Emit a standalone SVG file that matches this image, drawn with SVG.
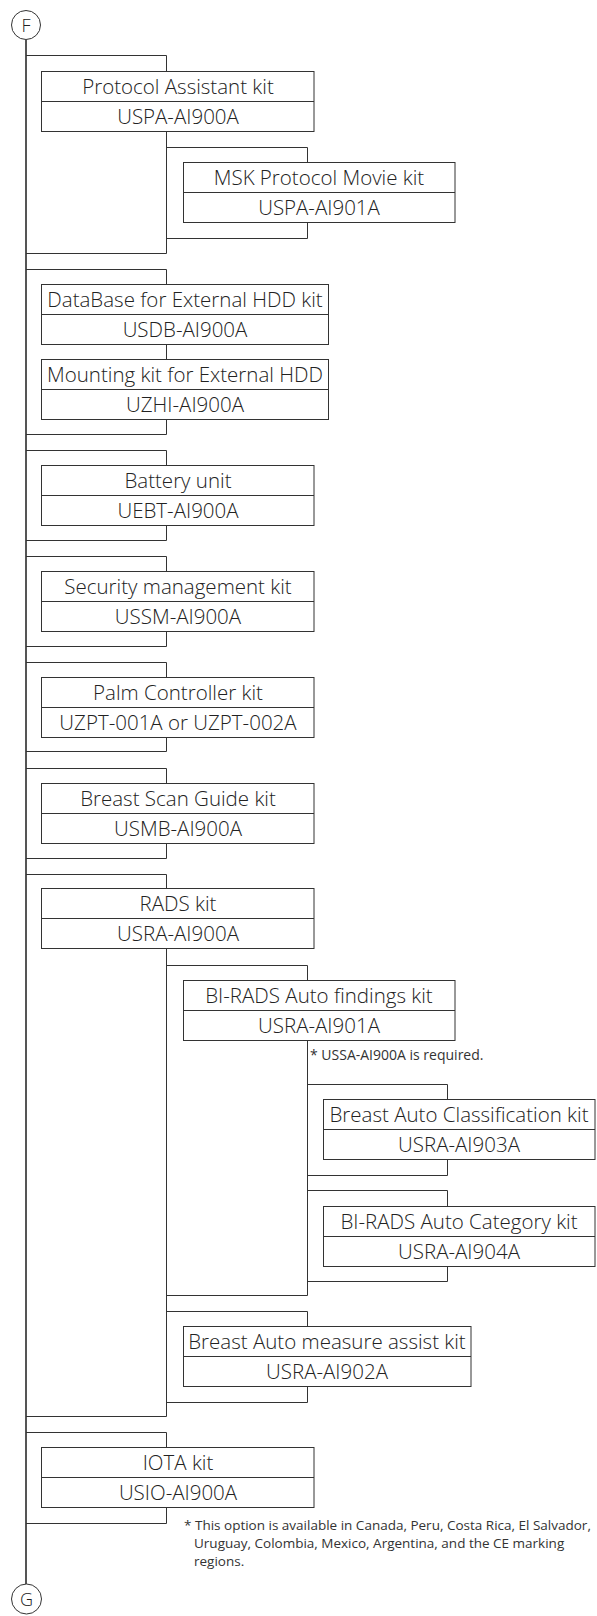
<svg xmlns="http://www.w3.org/2000/svg" width="597" height="1616" viewBox="0 0 597 1616">
<style>
.box{fill:#fff;stroke:#333;stroke-width:1}
.dv{stroke:#333;stroke-width:1}
.t{font-family:"Open Sans","Liberation Sans",sans-serif;font-weight:300;font-size:20.5px;fill:#222;text-anchor:middle}
.c{fill:none;stroke:#333;stroke-width:1}
.main{fill:none;stroke:#555;stroke-width:2}
.circ{fill:#fff;stroke:#333;stroke-width:1}
.ct{font-family:"Open Sans","Liberation Sans",sans-serif;font-weight:300;font-size:18px;fill:#222;text-anchor:middle}
.note{font-family:"Open Sans","Liberation Sans",sans-serif;font-weight:400;font-size:13.5px;fill:#333}
.note1{font-size:14px}
</style>
<g id="connectors">
<path class="main" d="M26 40 V1584"/>
<path class="c" d="M26 55.5 H166.5 V71.5 M166.5 131.5 V253.5 H26 M166.5 147.5 H307.5 V162.5 M307.5 222.5 V238.5 H166.5"/>
<path class="c" d="M26 269.5 H166.5 V284.5 M166.5 344.5 V359.5 M166.5 419.5 V434.5 H26"/>
<path class="c" d="M26 450.5 H166.5 V465.5 M166.5 525.5 V540.5 H26"/>
<path class="c" d="M26 556.5 H166.5 V571.5 M166.5 631.5 V646.5 H26"/>
<path class="c" d="M26 662.5 H166.5 V677.5 M166.5 737.5 V751.5 H26"/>
<path class="c" d="M26 768.5 H166.5 V783.5 M166.5 843.5 V858.5 H26"/>
<path class="c" d="M26 874.5 H166.5 V888.5 M166.5 948.5 V1416.5 H26 M166.5 965.5 H307.5 V980.5 M307.5 1040.5 V1295.5 H166.5 M307.5 1084.5 H447.5 V1099.5 M447.5 1159.5 V1175.5 H307.5 M307.5 1190.5 H447.5 V1206.5 M447.5 1266.5 V1281.5 H307.5 M166.5 1311.5 H307.5 V1326.5 M307.5 1386.5 V1402.5 H166.5"/>
<path class="c" d="M26 1432.5 H166.5 V1447.5 M166.5 1507.5 V1523.5 H26"/>
</g>
<g id="F">
<circle class="circ" cx="26" cy="25" r="14.5"/>
<text class="ct" x="26" y="31.5">F</text>
</g>
<g id="G">
<circle class="circ" cx="26.5" cy="1599" r="15"/>
<text class="ct" x="26.5" y="1605.5">G</text>
</g>
<g id="protocol-assistant">
<rect class="box" x="41.5" y="71.5" width="272.5" height="60"/>
<line class="dv" x1="41.5" y1="101.5" x2="314" y2="101.5"/>
<text class="t" x="178" y="94">Protocol Assistant kit</text>
<text class="t" x="178" y="124">USPA-AI900A</text>
</g>
<g id="msk-protocol-movie">
<rect class="box" x="183.5" y="162.5" width="271.5" height="60"/>
<line class="dv" x1="183.5" y1="192.5" x2="455" y2="192.5"/>
<text class="t" x="319" y="185">MSK Protocol Movie kit</text>
<text class="t" x="319" y="215">USPA-AI901A</text>
</g>
<g id="database-hdd">
<rect class="box" x="41.5" y="284.5" width="287" height="60"/>
<line class="dv" x1="41.5" y1="314.5" x2="328.5" y2="314.5"/>
<text class="t" x="185" y="307">DataBase for External HDD kit</text>
<text class="t" x="185" y="337">USDB-AI900A</text>
</g>
<g id="mounting-hdd">
<rect class="box" x="41.5" y="359.5" width="287" height="60"/>
<line class="dv" x1="41.5" y1="389.5" x2="328.5" y2="389.5"/>
<text class="t" x="185" y="382">Mounting kit for External HDD</text>
<text class="t" x="185" y="412">UZHI-AI900A</text>
</g>
<g id="battery">
<rect class="box" x="41.5" y="465.5" width="272.5" height="60"/>
<line class="dv" x1="41.5" y1="495.5" x2="314" y2="495.5"/>
<text class="t" x="178" y="488">Battery unit</text>
<text class="t" x="178" y="518">UEBT-AI900A</text>
</g>
<g id="security">
<rect class="box" x="41.5" y="571.5" width="272.5" height="60"/>
<line class="dv" x1="41.5" y1="601.5" x2="314" y2="601.5"/>
<text class="t" x="178" y="594">Security management kit</text>
<text class="t" x="178" y="624">USSM-AI900A</text>
</g>
<g id="palm-controller">
<rect class="box" x="41.5" y="677.5" width="272.5" height="60"/>
<line class="dv" x1="41.5" y1="707.5" x2="314" y2="707.5"/>
<text class="t" x="178" y="700">Palm Controller kit</text>
<text class="t" x="178" y="730">UZPT-001A or UZPT-002A</text>
</g>
<g id="breast-scan-guide">
<rect class="box" x="41.5" y="783.5" width="272.5" height="60"/>
<line class="dv" x1="41.5" y1="813.5" x2="314" y2="813.5"/>
<text class="t" x="178" y="806">Breast Scan Guide kit</text>
<text class="t" x="178" y="836">USMB-AI900A</text>
</g>
<g id="rads">
<rect class="box" x="41.5" y="888.5" width="272.5" height="60"/>
<line class="dv" x1="41.5" y1="918.5" x2="314" y2="918.5"/>
<text class="t" x="178" y="911">RADS kit</text>
<text class="t" x="178" y="941">USRA-AI900A</text>
</g>
<g id="birads-findings">
<rect class="box" x="183.5" y="980.5" width="271.5" height="60"/>
<line class="dv" x1="183.5" y1="1010.5" x2="455" y2="1010.5"/>
<text class="t" x="319" y="1003">BI-RADS Auto findings kit</text>
<text class="t" x="319" y="1033">USRA-AI901A</text>
<text class="note note1" x="310" y="1060">* USSA-AI900A is required.</text>
</g>
<g id="breast-auto-classification">
<rect class="box" x="323.5" y="1099.5" width="271.5" height="60"/>
<line class="dv" x1="323.5" y1="1129.5" x2="595" y2="1129.5"/>
<text class="t" x="459" y="1122">Breast Auto Classification kit</text>
<text class="t" x="459" y="1152">USRA-AI903A</text>
</g>
<g id="birads-category">
<rect class="box" x="323.5" y="1206.5" width="271.5" height="60"/>
<line class="dv" x1="323.5" y1="1236.5" x2="595" y2="1236.5"/>
<text class="t" x="459" y="1229">BI-RADS Auto Category kit</text>
<text class="t" x="459" y="1259">USRA-AI904A</text>
</g>
<g id="breast-auto-measure">
<rect class="box" x="183.5" y="1326.5" width="287.5" height="60"/>
<line class="dv" x1="183.5" y1="1356.5" x2="471" y2="1356.5"/>
<text class="t" x="327" y="1349">Breast Auto measure assist kit</text>
<text class="t" x="327" y="1379">USRA-AI902A</text>
</g>
<g id="iota">
<rect class="box" x="41.5" y="1447.5" width="272.5" height="60"/>
<line class="dv" x1="41.5" y1="1477.5" x2="314" y2="1477.5"/>
<text class="t" x="178" y="1470">IOTA kit</text>
<text class="t" x="178" y="1500">USIO-AI900A</text>
<text class="note" x="184" y="1530">* This option is available in Canada, Peru, Costa Rica, El Salvador,<tspan x="194" y="1548">Uruguay, Colombia, Mexico, Argentina, and the CE marking</tspan><tspan x="194" y="1566">regions.</tspan></text>
</g>
</svg>
